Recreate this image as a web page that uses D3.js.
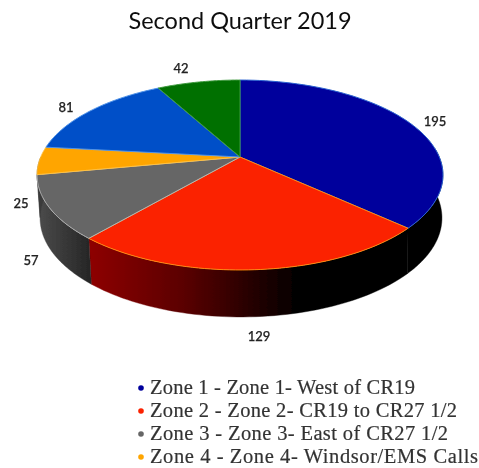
<!DOCTYPE html>
<html><head><meta charset="utf-8">
<script src="https://cdn.jsdelivr.net/npm/d3@7"></script>
<style>html,body{margin:0;padding:0;background:#fff}svg{display:block}</style>
</head><body><div id="c"></div>
<script>
const values=[195,129,57,25,81,42];
const sliceColors=["#00009c","#fb2000","#666666","#ffa500","#0050c8","#007000"];
const edgeColors=["#2a62d0","#ff8a10","#b4b4b4","#ffc040","#4f92e8","#3f9a3f"];
const legendLabels=["Zone 1 - Zone 1- West of CR19","Zone 2 - Zone 2- CR19 to CR27 1/2","Zone 3 - Zone 3- East of CR27 1/2","Zone 4 - Zone 4- Windsor/EMS Calls"];
const titleText="Second Quarter 2019";

const W=479,H=468;
const svg=d3.select("#c").append("svg").attr("width",W).attr("height",H);
const defs=svg.append("defs");
defs.append("filter").attr("id","soft").attr("x","-5%").attr("y","-5%").attr("width","110%").attr("height","110%")
  .append("feGaussianBlur").attr("stdDeviation",0.6);
const g=svg.append("g").attr("filter","url(#soft)");

function grad(id,x1,x2,stops){
  const l=defs.append("linearGradient").attr("id",id).attr("gradientUnits","userSpaceOnUse")
    .attr("x1",x1).attr("x2",x2).attr("y1",0).attr("y2",0);
  stops.forEach(s=>l.append("stop").attr("offset",s[0]).attr("stop-color",s[1]));
}
grad("sideRed",89,300,[[0,"#8e0000"],[0.45,"#5a0000"],[1,"#000000"]]);
grad("sideGray",40,90,[[0,"#4a4a4a"],[1,"#262626"]]);

// Perspective projection of the tilted disc
const C=-0.1895,CX=240,TOPY=157,PY=61.8,Q=199.3;
function rimTop(t){const u=Math.sin(t),v=-Math.cos(t),d=1+C*v;return [CX+Q*u/d,(TOPY+PY*v)/d];}
const rimBase=t=>{const p=rimTop(t),v=-Math.cos(t);return [CX+1+(p[0]-CX)*0.99,p[1]+42+5*Math.max(v,0)];};

const arcs=d3.pie().sort(null).value(d=>d)(values);
const samples=(a,b)=>d3.range(0,61).map(i=>a+(b-a)*i/60);
const line=d3.line();

// Side wall
const wallFill=["#000000","url(#sideRed)","url(#sideGray)","#3a3a3a",null,null];
const PI=Math.PI;
arcs.forEach((a,i)=>{
  if(!wallFill[i])return;
  const s=Math.max(a.startAngle,PI*0.47),e=Math.min(a.endAngle,PI*1.5);
  if(e<=s)return;
  const ts=samples(s,e);
  g.append("path").attr("d",line(ts.map(rimTop).concat(ts.slice().reverse().map(rimBase)))+"Z")
    .attr("fill",wallFill[i]).attr("stroke",wallFill[i]).attr("stroke-width",0.4);
});

// Top face
arcs.forEach((a,i)=>{
  const pts=samples(a.startAngle,a.endAngle).map(rimTop);
  g.append("path").attr("d",line([[CX,TOPY]].concat(pts))+"Z")
    .attr("fill",sliceColors[i]).attr("stroke",edgeColors[i]).attr("stroke-width",1).attr("stroke-linejoin","round");
});

// Data labels
const labelAt=[[435,121],[259,336],[31,260],[21,203],[66,107],[181,68]];
values.forEach((v,i)=>{
  g.append("text").attr("x",labelAt[i][0]).attr("y",labelAt[i][1]+4.5).attr("text-anchor","middle")
   .attr("font-family","Lato, 'Noto Sans', sans-serif").attr("font-size",13).attr("font-weight",500)
   .attr("fill","#222").attr("stroke","#222").attr("stroke-width",0.25).text(v);
});

// Title
g.append("text").attr("x",240).attr("y",29).attr("text-anchor","middle")
 .attr("font-family","Lato, sans-serif").attr("font-size",23.5).attr("fill","#111").text(titleText);

// Legend
const ly=d3.scalePoint().domain(d3.range(legendLabels.length)).range([388,457]);
const legendWidths=[265,307,298,328];
legendLabels.forEach((t,i)=>{
  g.append("circle").attr("cx",141).attr("cy",ly(i)).attr("r",2.8).attr("fill",sliceColors[i]);
  g.append("text").attr("x",150).attr("y",ly(i)+6).attr("font-family","'Liberation Serif', serif")
   .attr("font-size",20.5).attr("fill","#333").attr("stroke","#333").attr("stroke-width",0.2)
   .attr("textLength",legendWidths[i]).attr("lengthAdjust","spacing").text(t);
});
</script></body></html>
